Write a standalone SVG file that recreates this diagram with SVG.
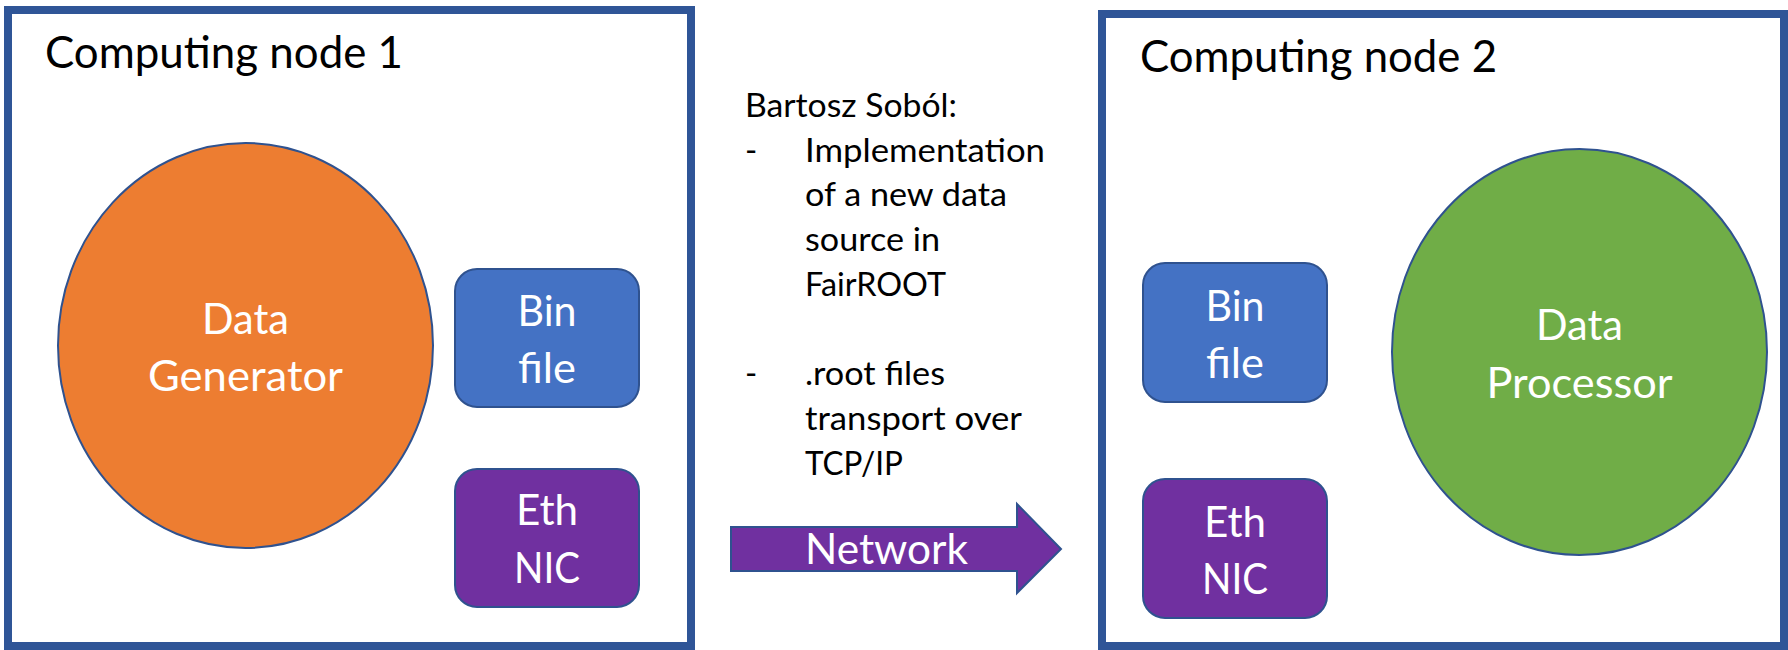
<svg xmlns="http://www.w3.org/2000/svg" width="1788" height="650" viewBox="0 0 1788 650">
  <style>
    .frame { fill: #ffffff; stroke: #2F5597; stroke-width: 8; }
    .shape { stroke: #2F528F; stroke-width: 2; }
    .orange { fill: #ED7D31; }
    .green { fill: #70AD47; }
    .blue { fill: #4472C4; }
    .purple { fill: #7030A0; }
    .title { font-family: Lato, "Open Sans", sans-serif; font-size: 44px; fill: #000000; }
    .label { font-family: Lato, "Open Sans", sans-serif; font-size: 42px; fill: #ffffff; text-anchor: middle; }
    .note { font-family: Lato, "Open Sans", sans-serif; font-size: 33px; fill: #000000; }
  </style>

  <!-- Computing node 1 -->
  <g id="node1">
    <rect class="frame" x="8" y="10" width="683" height="636"/>
    <text class="title" x="45" y="68" textLength="358" lengthAdjust="spacingAndGlyphs">Computing node 1</text>
  </g>
  <g id="data-generator">
    <ellipse class="shape orange" cx="245.5" cy="345.5" rx="187.5" ry="202.5"/>
    <text class="label" x="245.5" y="334" textLength="87" lengthAdjust="spacingAndGlyphs">Data</text>
    <text class="label" x="245.5" y="391" textLength="195" lengthAdjust="spacingAndGlyphs">Generator</text>
  </g>
  <g id="bin-file-1">
    <rect class="shape blue" x="455" y="269" width="184" height="138" rx="22"/>
    <text class="label" x="547" y="326" textLength="59" lengthAdjust="spacingAndGlyphs">Bin</text>
    <text class="label" x="547" y="383" textLength="58" lengthAdjust="spacingAndGlyphs">file</text>
  </g>
  <g id="eth-nic-1">
    <rect class="shape purple" x="455" y="469" width="184" height="138" rx="22"/>
    <text class="label" x="547" y="525" textLength="62" lengthAdjust="spacingAndGlyphs">Eth</text>
    <text class="label" x="547" y="583" textLength="66" lengthAdjust="spacingAndGlyphs">NIC</text>
  </g>

  <!-- Notes between the nodes -->
  <g id="notes">
    <text class="note" x="745" y="117" textLength="212" lengthAdjust="spacingAndGlyphs">Bartosz Soból:</text>
    <text class="note" x="745" y="162">-</text>
    <text class="note" x="805" y="162" textLength="240" lengthAdjust="spacingAndGlyphs">Implementation</text>
    <text class="note" x="805" y="206" textLength="202" lengthAdjust="spacingAndGlyphs">of a new data</text>
    <text class="note" x="805" y="251" textLength="135" lengthAdjust="spacingAndGlyphs">source in</text>
    <text class="note" x="805" y="296" textLength="141" lengthAdjust="spacingAndGlyphs">FairROOT</text>
    <text class="note" x="745" y="385">-</text>
    <text class="note" x="805" y="385" textLength="140" lengthAdjust="spacingAndGlyphs">.root files</text>
    <text class="note" x="805" y="430" textLength="217" lengthAdjust="spacingAndGlyphs">transport over</text>
    <text class="note" x="805" y="475" textLength="98" lengthAdjust="spacingAndGlyphs">TCP/IP</text>
  </g>

  <!-- Network link -->
  <g id="connectors">
    <path class="shape purple" stroke-width="1.5" d="M731,527 H1017 V504 L1061,549 L1017,593 V571 H731 Z"/>
    <text class="label" x="886.5" y="564" textLength="163" lengthAdjust="spacingAndGlyphs">Network</text>
  </g>

  <!-- Computing node 2 -->
  <g id="node2">
    <rect class="frame" x="1102" y="14" width="682" height="632"/>
    <text class="title" x="1140" y="72" textLength="357" lengthAdjust="spacingAndGlyphs">Computing node 2</text>
  </g>
  <g id="bin-file-2">
    <rect class="shape blue" x="1143" y="263" width="184" height="139" rx="22"/>
    <text class="label" x="1235" y="321" textLength="59" lengthAdjust="spacingAndGlyphs">Bin</text>
    <text class="label" x="1235" y="378" textLength="58" lengthAdjust="spacingAndGlyphs">file</text>
  </g>
  <g id="eth-nic-2">
    <rect class="shape purple" x="1143" y="479" width="184" height="139" rx="22"/>
    <text class="label" x="1235" y="537" textLength="62" lengthAdjust="spacingAndGlyphs">Eth</text>
    <text class="label" x="1235" y="594" textLength="66" lengthAdjust="spacingAndGlyphs">NIC</text>
  </g>
  <g id="data-processor">
    <ellipse class="shape green" cx="1579.5" cy="352" rx="187.5" ry="203"/>
    <text class="label" x="1579.5" y="340" textLength="87" lengthAdjust="spacingAndGlyphs">Data</text>
    <text class="label" x="1579.5" y="398" textLength="186" lengthAdjust="spacingAndGlyphs">Processor</text>
  </g>
</svg>
